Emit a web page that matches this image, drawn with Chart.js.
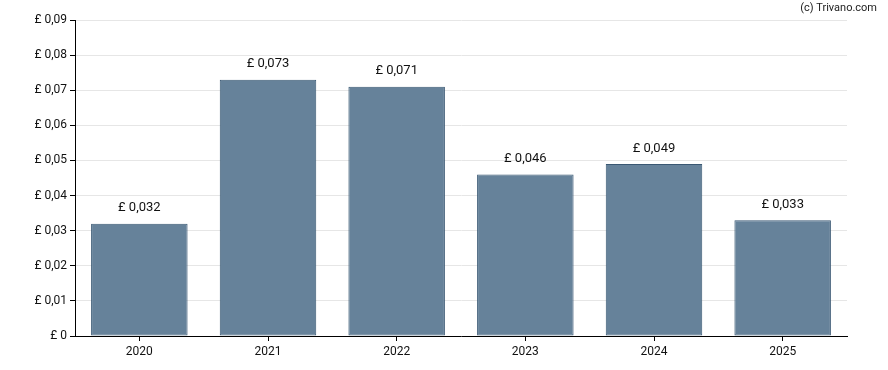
<!DOCTYPE html>
<html>
<head>
<meta charset="utf-8">
<script src="https://cdn.jsdelivr.net/npm/chart.js@4/dist/chart.umd.min.js"></script>
<style>
  html, body { margin: 0; padding: 0; background: #fff; }
  #wrap { width: 888px; height: 370px; position: relative; }
</style>
</head>
<body>
<div id="wrap"><canvas id="divChart"></canvas></div>
<script>
const years = ['2020', '2021', '2022', '2023', '2024', '2025'];
const dividends = [0.032, 0.073, 0.071, 0.046, 0.049, 0.033];

const fmtPound = (v, digits) => '£ ' + (v === 0 ? '0' : v.toFixed(digits).replace('.', ','));

// labels above the bars + credit line
const labelPlugin = {
    id: 'barLabels',
    afterDatasetsDraw(chart) {
        const ctx = chart.ctx;
        const meta = chart.getDatasetMeta(0);
        ctx.save();
        ctx.font = '13px Roboto, "Liberation Sans", sans-serif';
        ctx.fillStyle = '#111';
        ctx.textAlign = 'center';
        ctx.textBaseline = 'bottom';
        meta.data.forEach((bar, i) => {
            ctx.fillText(fmtPound(dividends[i], 3), bar.x, bar.y - 9);
        });
        ctx.font = '11px Roboto, "Liberation Sans", sans-serif';
        ctx.textAlign = 'right';
        ctx.textBaseline = 'middle';
        ctx.fillStyle = '#222';
        ctx.fillText('(c) Trivano.com', 877, 8);
        ctx.restore();
    }
};

new Chart(document.getElementById('divChart').getContext('2d'), {
    type: 'bar',
    data: {
        labels: years,
        datasets: [{
            data: dividends,
            backgroundColor: '#66829a',
            borderColor: '#3a5873',
            borderWidth: 1,
            borderSkipped: false,
            barPercentage: 0.75,
            categoryPercentage: 1
        }]
    },
    options: {
        responsive: true,
        maintainAspectRatio: false,
        animation: false,
        layout: { padding: { left: 0, right: 41, top: 20, bottom: 0 } },
        plugins: {
            legend: { display: false },
            tooltip: { enabled: false }
        },
        scales: {
            x: {
                afterFit: scale => { scale.height = 34; },
                grid: {
                    offset: false,
                    drawOnChartArea: false,
                    tickColor: '#000',
                    tickLength: 5
                },
                border: { color: '#000', width: 1 },
                ticks: {
                    color: '#111',
                    font: { family: 'Roboto, "Liberation Sans", sans-serif', size: 12 },
                    padding: 4
                }
            },
            y: {
                min: 0,
                max: 0.09,
                afterFit: scale => { scale.width = 75; },
                grid: {
                    color: '#e6e6e6',
                    tickColor: '#000',
                    tickLength: 5
                },
                border: { color: '#000', width: 1 },
                ticks: {
                    stepSize: 0.01,
                    color: '#111',
                    font: { family: 'Roboto, "Liberation Sans", sans-serif', size: 12 },
                    padding: 3,
                    callback: v => fmtPound(v, 2)
                }
            }
        }
    },
    plugins: [labelPlugin]
});
</script>
</body>
</html>
